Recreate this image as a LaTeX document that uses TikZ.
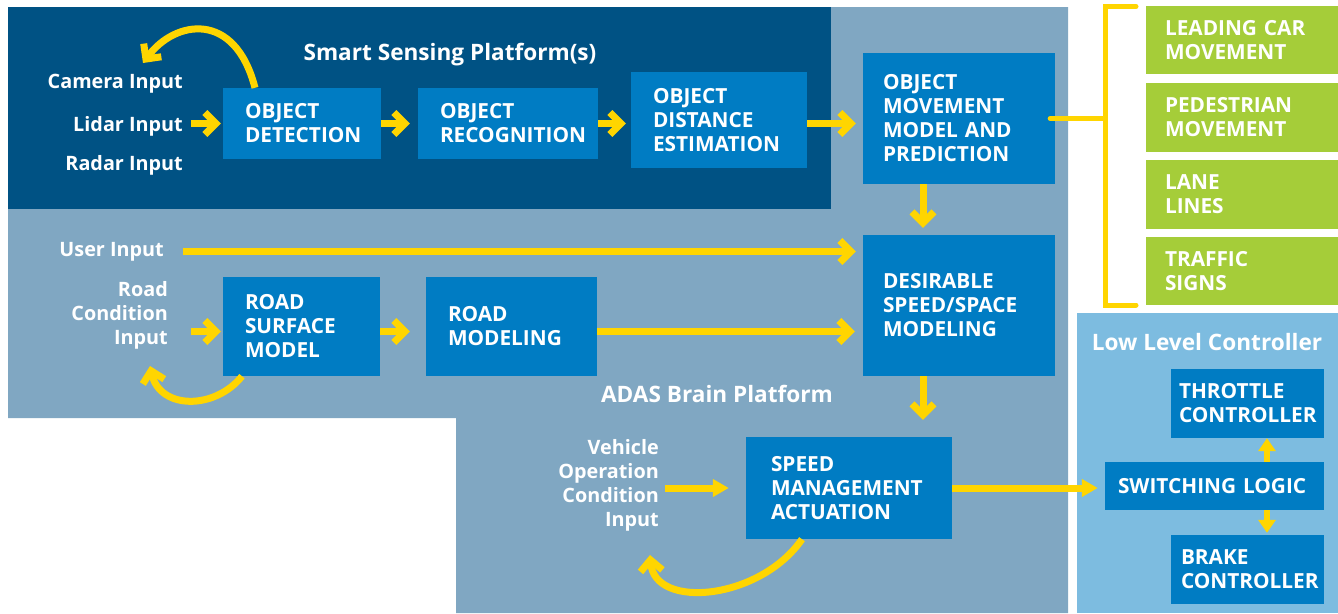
\documentclass[tikz,border=0pt]{standalone}
\usepackage{fontspec}
\setmainfont{Open Sans}
\usetikzlibrary{arrows.meta,calc}
\definecolor{navy}{HTML}{005284}
\definecolor{boxblue}{HTML}{007CC3}
\definecolor{slate}{HTML}{80A7C2}
\definecolor{skyblue}{HTML}{7DBCE0}
\definecolor{leaf}{HTML}{A5CD39}
\definecolor{ylw}{HTML}{FFD500}
\tikzset{
  txt/.style={text=white, font=\fontsize{20.8}{24}\selectfont\bfseries},
  blk/.style={txt, fill=boxblue, align=left, inner ysep=0pt, inner xsep=22pt, anchor=center},
  grn/.style={blk, fill=leaf, inner xsep=19pt},
  lbl/.style={text=white, font=\fontsize{19.8}{24}\selectfont\bfseries, align=right, inner sep=0pt, anchor=east},
  ttl/.style={text=white, font=\fontsize{22.6}{26}\selectfont\bfseries, inner sep=0pt},
  chev/.style={draw=ylw, line width=7pt, -{Straight Barb[length=11pt,width=22pt]}},
  tri/.style={draw=ylw, line width=7pt, -{Triangle[length=16pt,width=17pt]}},
  brace/.style={draw=ylw, line width=5pt, line cap=round},
}
\begin{document}
\begin{tikzpicture}[x=1pt, y=-1pt]
\useasboundingbox (0,0) rectangle (1338,613);
% platform backgrounds
\fill[slate] (8,7) -- (1068,7) -- (1068,613) -- (456,613) -- (456,418) -- (8,418) -- cycle;
\fill[navy] (8,7) rectangle (831,209);
\fill[skyblue] (1077,313) rectangle (1338,613);

% titles
\node[ttl] (tsmart) at (450,55) {Smart Sensing Platform(s)};
\node[ttl] (tadas) at (717,394) {ADAS Brain Platform};
\node[ttl] (tlow) at (1207,342.5) {Low Level Controller};

% input labels
\node[lbl] (cam) at (183,83.5) {Camera Input};
\node[lbl] (lid) at (183,126.5) {Lidar Input};
\node[lbl] (rad) at (183,165.5) {Radar Input};
\node[lbl] (user) at (164,251.5) {User Input};
\node[lbl] (road) at (168,315.5) {Road\\Condition\\Input};
\node[lbl] (veh) at (659,485) {Vehicle\\Operation\\Condition\\Input};

% processing blocks
\node[blk, text width=114pt, minimum height=71pt] (det) at (302,123.5) {OBJECT\\DETECTION};
\node[blk, text width=136pt, minimum height=71pt] (rec) at (508,123.5) {OBJECT\\RECOGNITION};
\node[blk, text width=132pt, minimum height=96pt] (dist) at (719,120) {OBJECT\\DISTANCE\\ESTIMATION};
\node[blk, inner xsep=20pt, text width=152pt, minimum height=131pt] (move) at (959,118.5) {OBJECT\\MOVEMENT\\MODEL AND\\PREDICTION};
\node[blk, inner xsep=20pt, text width=152pt, minimum height=141pt] (des) at (959,305.5) {DESIRABLE\\SPEED/SPACE\\MODELING};
\node[blk, text width=113pt, minimum height=99pt] (surf) at (301.5,326.5) {ROAD\\SURFACE\\MODEL};
\node[blk, text width=127pt, minimum height=99pt] (rmod) at (511.5,326.5) {ROAD\\MODELING};
\node[blk, inner xsep=25pt, text width=156pt, minimum height=102pt] (spd) at (849,488) {SPEED\\MANAGEMENT\\ACTUATION};

% low level controller
\node[blk, inner xsep=8pt, text width=137pt, minimum height=69pt] (thr) at (1247.5,403.5) {THROTTLE\\CONTROLLER};
\node[blk, inner xsep=13pt, text width=193pt, minimum height=48pt] (sw) at (1214.5,486) {SWITCHING LOGIC};
\node[blk, inner xsep=10pt, text width=133pt, minimum height=69pt] (brk) at (1247.5,569.5) {BRAKE\\CONTROLLER};

% predicted object classes
\node[grn, text width=154pt, minimum height=68pt] (lead) at (1242,40) {LEADING CAR\\MOVEMENT};
\node[grn, text width=154pt, minimum height=69pt] (ped) at (1242,117.5) {PEDESTRIAN\\MOVEMENT};
\node[grn, text width=154pt, minimum height=69pt] (lane) at (1242,194.5) {LANE\\LINES};
\node[grn, text width=154pt, minimum height=68pt] (sign) at (1242,271) {TRAFFIC\\SIGNS};

% bracket grouping the classes
\coordinate (btop) at (1136,6.5);
\coordinate (bbot) at (1136,305);
\draw[brace] (btop) -- ++(-31,0) |- (bbot);
\draw[brace] ($(move.east)+(-5,0)$) -- ($(btop |- move.east)+(-31,0)$);

% sensing chain
\draw[chev] ($(lid.east |- det.west)+(8,0)$) -- ($(det.west)+(-2,0)$);
\draw[chev] (det.east) -- ($(rec.west)+(-8,0)$);
\draw[chev] (rec.east) -- ($(dist.west |- rec.east)+(-5,0)$);
\draw[chev] (dist.east |- rec.east) -- ($(move.west |- rec.east)+(-7,0)$);
\draw[chev] ($(move.south)+(-36,0)$) -- ($(des.north)+(-36,-7)$);
\draw[chev] ($(des.south)+(-36,0)$) -- ($(spd.north -| des.south)+(-36,-17)$);

% road and user inputs
\draw[chev] ($(user.east)+(19,0)$) -- ($(des.west |- user.east)+(-7,0)$);
\draw[chev] ($(road.east |- surf.west)+(23,5)$) -- ($(surf.west)+(-2,5)$);
\draw[chev] ($(surf.east)+(0,5)$) -- ($(rmod.west)+(-16,5)$);
\draw[chev] ($(rmod.east)+(0,5)$) -- ($(des.west |- rmod.east)+(-8,5)$);

% feedback loops
\coordinate (camfb) at (143,63);
\coordinate (roadfb) at (150,366);
\coordinate (vehfb) at (650,555);
\draw[chev] ($(det.north)+(-47,0)$) .. controls (235,10) and (175,20) .. (camfb);
\draw[chev] ($(surf.south)+(-59.5,0)$) .. controls (215,410) and (160,410) .. (roadfb);
\draw[chev] ($(spd.south)+(-47,0)$) .. controls (760,600) and (655,610) .. (vehfb);

% actuation path
\draw[tri] ($(veh.east |- spd.west)+(6,0)$) -- ($(spd.west)+(-17,0)$);
\draw[tri] (spd.east) -- ($(sw.west |- spd.east)+(-7,0)$);
\draw[tri, line width=6pt, -{Triangle[length=13pt,width=17pt]}] ($(sw.north -| thr.south)+(19.5,0)$) -- ($(thr.south)+(19.5,0)$);
\draw[tri, line width=6pt, -{Triangle[length=13pt,width=17pt]}] ($(sw.south -| brk.north)+(19.5,0)$) -- ($(brk.north)+(19.5,-2)$);
\end{tikzpicture}
\end{document}
